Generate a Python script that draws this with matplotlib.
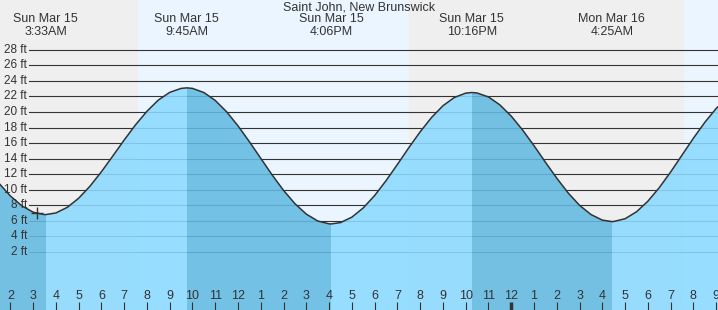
import numpy as np
import matplotlib
matplotlib.use("Agg")
import matplotlib.pyplot as plt
from matplotlib.patches import Polygon

plt.rcParams['font.family'] = ['Liberation Sans', 'DejaVu Sans']

# tide level (ft), hours since midnight Sun Mar 15
times = [1.5, 2.0, 2.5, 3.0, 3.5, 3.55, 4.0, 4.5, 5.0, 5.5, 6.0, 6.5, 7.0, 7.5,
         8.0, 8.5, 9.0, 9.5, 9.75, 10.0, 10.5, 11.0, 11.5, 12.0, 12.5, 13.0,
         13.5, 14.0, 14.5, 15.0, 15.5, 16.0, 16.1, 16.5, 17.0, 17.5, 18.0,
         18.5, 19.0, 19.5, 20.0, 20.5, 21.0, 21.5, 22.0, 22.27, 22.5, 23.0,
         23.5, 24.0, 24.5, 25.0, 25.5, 26.0, 26.5, 27.0, 27.5, 28.0, 28.42,
         28.5, 29.0, 29.5, 30.0, 30.5, 31.0, 31.5, 32.0, 32.5, 33.0, 33.5]
levels = [10.83, 9.20, 7.94, 7.11, 6.80, 6.80, 7.01, 7.73, 8.90, 10.46, 12.31,
          14.33, 16.39, 18.35, 20.09, 21.53, 22.52, 23.03, 23.10, 23.03, 22.50,
          21.48, 20.02, 18.21, 16.17, 14.03, 11.89, 9.91, 8.20, 6.86, 5.98,
          5.61, 5.60, 5.77, 6.47, 7.66, 9.25, 11.16, 13.25, 15.40, 17.45, 19.29,
          20.80, 21.86, 22.42, 22.50, 22.44, 21.93, 20.91, 19.46, 17.67, 15.66,
          13.54, 11.48, 9.58, 7.99, 6.81, 6.09, 5.90, 5.91, 6.27, 7.16, 8.52,
          10.26, 12.28, 14.45, 16.62, 18.66, 20.45, 21.87]

# high / low tides shown on top
ext_hours = [3.55, 9.75, 16.10, 22.27, 28.42]
ext_days = ['Sun Mar 15', 'Sun Mar 15', 'Sun Mar 15', 'Sun Mar 15', 'Mon Mar 16']
ext_times = ['3:33AM', '9:45AM', '4:06PM', '10:16PM', '4:25AM']

# sun: night/day boundaries
sunrise = [7.6, 31.6]
sunset = [19.5]

now_hour = 3.18
now_level = 7.0

x0, x1 = 1.546, 33.08
y0, y1 = -5.47, 34.4

night_col = '#efefef'
day_col = '#eaf5ff'
rise_col = '#8cdaff'
fall_col = '#63bae1'
ink = '#333333'

fig = plt.figure(figsize=(7.18, 3.10), dpi=100)
ax = fig.add_axes([0, 0, 1, 1])
ax.set_xlim(x0, x1)
ax.set_ylim(y0, y1)
ax.set_axis_off()

# background day / night
edges = sorted([x0] + sunrise + sunset + [x1])
is_day = False
for a, b in zip(edges[:-1], edges[1:]):
    ax.axvspan(a, b, color=day_col if is_day else night_col, lw=0, zorder=0)
    is_day = not is_day

# grid
for v in range(2, 30, 2):
    ax.axhline(v, xmin=0.0404, xmax=1, color=ink, lw=0.8, zorder=1)
    ax.text(0.0376, v, f"{v} ft", transform=ax.get_yaxis_transform(),
            ha='right', va='center', fontsize=8.5, color=ink, zorder=5)

# fill under curve, falling tide darker
clip = Polygon(list(zip(times, levels)) + [(times[-1], y0 - 1), (times[0], y0 - 1)],
               closed=True, fc='none', ec='none')
ax.add_patch(clip)
bounds = [x0 - 1] + ext_hours + [x1 + 1]
falling = True
for a, b in zip(bounds[:-1], bounds[1:]):
    r = ax.axvspan(a, b, color=fall_col if falling else rise_col, alpha=0.88,
                   lw=0, zorder=2)
    r.set_clip_path(clip)
    falling = not falling

ax.plot(times, levels, color=ink, lw=1.1, zorder=3)
ax.plot([now_hour], [now_level], marker='+', ms=8, mew=1, color=ink, zorder=4)

# top labels
ax.text(0.5, 1 - 7 / 310, 'Saint John, New Brunswick', transform=ax.transAxes,
        ha='center', va='center', fontsize=9, color=ink)
tr = ax.get_xaxis_transform()
for h, d, t in zip(ext_hours, ext_days, ext_times):
    ax.text(h, 1 - 19 / 310, d, transform=tr, ha='center', va='center',
            fontsize=9, color=ink)
    ax.text(h, 1 - 32 / 310, t, transform=tr, ha='center', va='center',
            fontsize=9, color=ink)

# hour ticks
for h in range(2, 34):
    lab = str((h - 1) % 12 + 1)
    ax.text(h, 1 - 296 / 310, lab, transform=tr, ha='center', va='center',
            fontsize=9, color=ink)
    ax.plot([h, h], [0, 1 - 302 / 310], transform=tr, color=ink,
            lw=2.5 if h % 24 == 0 else 0.8, zorder=5, solid_capstyle='butt')

fig.savefig('out.png', dpi=100)
